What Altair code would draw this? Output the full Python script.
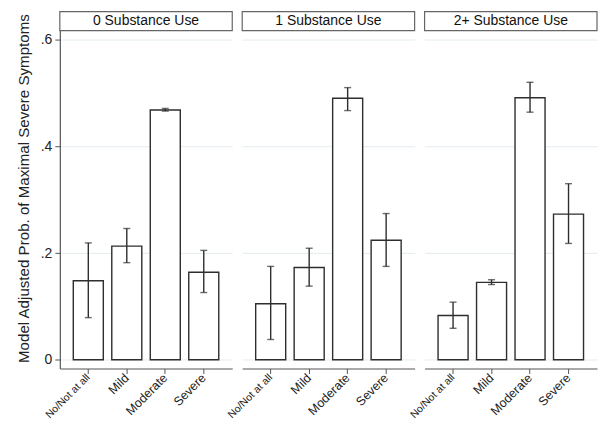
import altair as alt
import pandas as pd

categories = ["No/Not at all", "Mild", "Moderate", "Severe"]
panels = ["0 Substance Use", "1 Substance Use", "2+ Substance Use"]

est_0 = [0.148, 0.213, 0.468, 0.164]
lo_0 = [0.079, 0.182, 0.466, 0.126]
hi_0 = [0.219, 0.246, 0.471, 0.205]

est_1 = [0.105, 0.173, 0.490, 0.224]
lo_1 = [0.038, 0.138, 0.467, 0.175]
hi_1 = [0.175, 0.209, 0.510, 0.274]

est_2 = [0.083, 0.145, 0.491, 0.273]
lo_2 = [0.059, 0.141, 0.464, 0.218]
hi_2 = [0.108, 0.150, 0.520, 0.330]

y_ticks = [0, 0.2, 0.4, 0.6]

ests = [est_0, est_1, est_2]
los = [lo_0, lo_1, lo_2]
his = [hi_0, hi_1, hi_2]

FONT = "Liberation Sans"
W = 173
H = 339
GRID = "#e3ecf0"
DARK = "#2e2e2e"
AXIS = "#555555"

yscale = alt.Scale(domain=[-0.0163, 0.6168], nice=False, zero=False)


def make_panel(i):
    df = pd.DataFrame({"cat": categories, "est": ests[i], "lo": los[i], "hi": his[i]})
    xaxis = alt.Axis(
        title=None,
        labelAngle=315,
        labelAlign="right",
        labelBaseline="middle",
        labelFontSize={"condition": {"test": "datum.value == 'No/Not at all'", "value": 10.5}, "value": 12.5},
        labelPadding=2,
        tickSize=5,
        labelFont=FONT,
        labelColor="#222",
        domainColor=AXIS,
        tickColor=AXIS,
        domainWidth=1.2,
    )
    x = alt.X("cat:N", sort=categories,
              scale=alt.Scale(paddingInner=0.22, paddingOuter=0.35), axis=xaxis)
    if i == 0:
        yaxis = alt.Axis(
            values=y_ticks,
            labelExpr="datum.value == 0 ? '0' : replace(format(datum.value, '.1f'), '0.', '.')",
            title="Model Adjusted Prob. of Maximal Severe Symptoms",
            titleFont=FONT, titleFontSize=15.2, titleFontWeight="normal", titleColor="#222",
            titlePadding=9, titleY=158,
            labelFont=FONT, labelFontSize=14, labelColor="#222",
            tickSize=5, labelPadding=3,
            grid=True, gridColor=GRID,
            domainColor=AXIS, tickColor=AXIS, domainWidth=1.2,
        )
    else:
        yaxis = alt.Axis(values=y_ticks, labels=False, ticks=False, domain=False,
                         title=None, grid=True, gridColor=GRID)
    base = alt.Chart(df)
    bars = base.mark_bar(fill="white", stroke=DARK, strokeWidth=1.4).encode(
        x=x, y=alt.Y("est:Q", scale=yscale, axis=yaxis), y2=alt.datum(0)
    )
    rule = base.mark_rule(color=DARK, strokeWidth=1.4).encode(
        x=alt.X("cat:N", sort=categories), y=alt.Y("lo:Q"), y2="hi:Q"
    )
    cap_lo = base.mark_tick(color=DARK, size=7, thickness=1.4).encode(
        x=alt.X("cat:N", sort=categories), y=alt.Y("lo:Q")
    )
    cap_hi = base.mark_tick(color=DARK, size=7, thickness=1.4).encode(
        x=alt.X("cat:N", sort=categories), y=alt.Y("hi:Q")
    )
    hdf = pd.DataFrame({"t": [panels[i]]})
    hbox = alt.Chart(hdf).mark_rect(fill="white", stroke="#666666", strokeWidth=1.2).encode(
        x=alt.value(0), x2=alt.value(W), y=alt.value(-19), y2=alt.value(0)
    )
    htext = alt.Chart(hdf).mark_text(font=FONT, fontSize=14, color="#111", baseline="middle", align="center").encode(
        x=alt.value(W / 2), y=alt.value(-9.5), text="t:N"
    )
    return alt.layer(bars, rule, cap_lo, cap_hi, hbox, htext).properties(width=W, height=H)


chart = alt.hconcat(make_panel(0), make_panel(1), make_panel(2), spacing=10, bounds="flush").properties(
    padding={"left": 8, "top": 2, "right": 0, "bottom": 0}
).configure_view(stroke=None)

chart.save("out.html", embed_options={"renderer": "svg", "actions": False})
